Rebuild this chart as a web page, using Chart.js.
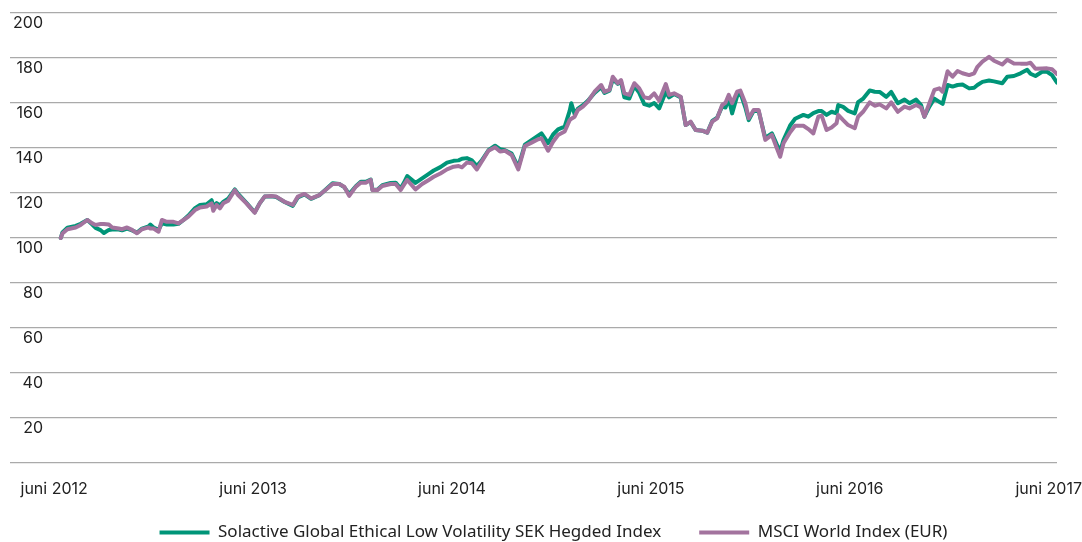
<!DOCTYPE html>
<html>
<head>
<meta charset="utf-8">
<script src="https://cdn.jsdelivr.net/npm/chart.js@4"></script>
<style>
  html, body { margin: 0; padding: 0; background: #fff; overflow: hidden; }
  #wrap { width: 1082px; height: 551px; position: relative; }
</style>
</head>
<body>
<div id="wrap"><canvas id="indexChart"></canvas></div>
<script>
// months since juni 2012
const months = [
  0.4, 0.5, 0.8, 1.3, 1.6, 2.0, 2.3, 2.5, 2.8, 3.0, 3.3, 3.5, 3.9, 4.1, 4.4, 4.7, 5.0, 5.3, 5.7, 5.8,
  6.0, 6.3, 6.5, 6.8, 7.2, 7.5, 7.8, 8.1, 8.5, 8.8, 9.2, 9.5, 9.6, 9.8, 10.0, 10.2, 10.5, 10.9, 11.1, 11.6,
  12.1, 12.4, 12.7, 13.1, 13.4, 13.9, 14.4, 14.7, 15.1, 15.5, 16.0, 16.5, 16.8, 17.2, 17.5, 17.8, 18.2, 18.5, 18.8, 19.1,
  19.2, 19.5, 19.8, 20.3, 20.6, 20.9, 21.1, 21.3, 21.8, 22.2, 22.6, 22.9, 23.3, 23.7, 24.1, 24.4, 24.6, 24.9, 25.2, 25.5,
  25.8, 26.2, 26.6, 26.9, 27.2, 27.6, 28.0, 28.4, 28.8, 29.2, 29.4, 29.8, 30.1, 30.4, 30.8, 31.1, 31.2, 31.4, 31.6, 31.9,
  32.2, 32.6, 33.0, 33.2, 33.5, 33.7, 34.0, 34.2, 34.4, 34.7, 35.0, 35.3, 35.6, 35.9, 36.2, 36.5, 36.9, 37.1, 37.4, 37.8,
  38.1, 38.4, 38.7, 39.1, 39.4, 39.7, 40.0, 40.3, 40.5, 40.7, 40.9, 41.2, 41.4, 41.7, 41.9, 42.2, 42.5, 42.9, 43.3, 43.6,
  43.8, 44.0, 44.4, 44.7, 45.2, 45.5, 45.8, 46.1, 46.3, 46.6, 46.9, 47.2, 47.3, 47.6, 47.9, 48.3, 48.5, 48.8, 49.2, 49.5,
  49.8, 50.2, 50.5, 50.9, 51.3, 51.6, 52.0, 52.3, 52.5, 52.8, 53.1, 53.4, 53.6, 53.9, 54.2, 54.5, 54.8, 55.2, 55.5, 55.7,
  56.0, 56.4, 56.7, 57.2, 57.5, 57.9, 58.3, 58.7, 58.9, 59.2, 59.6, 59.9, 60.2, 60.5
];

const solactive = [
  100, 102.5, 104.6, 105.4, 106.3, 108, 106, 104.5, 103.5, 102.2, 103.6, 103.8, 103.8, 103.4, 104.2, 103.4, 102.4, 104.2, 105.2, 106,
  104.7, 103.6, 106.5, 106, 106, 106.3, 108, 110, 113.3, 114.7, 115, 116.8, 114, 115.5, 114.5, 116, 117.5, 121.6, 119.6, 115.6,
  111.4, 115.4, 118.4, 118.5, 118.2, 116, 114.3, 118, 119.4, 117.4, 119, 122.3, 124.3, 124, 122.6, 119.5, 123, 125, 125, 126,
  121.5, 121.5, 123.5, 124.5, 124.6, 122, 124.5, 127.5, 124.5, 126.5, 128.5, 130, 131.5, 133.5, 134.3, 134.5, 135.2, 135.5, 134.5, 132,
  134.5, 139, 141, 139.5, 139, 137.5, 131.5, 141.5, 143.5, 145.5, 146.5, 142.2, 146, 148.3, 149.5, 156.5, 159.9, 155, 157.5, 159,
  161, 164.5, 167, 164.5, 165.5, 170.5, 168.5, 169.5, 162.5, 162, 167.5, 164.5, 159.5, 158.8, 160, 157.6, 165, 162.5, 164, 162.5,
  150.2, 151.5, 148, 147.7, 146.8, 152, 153.5, 158.5, 158, 162, 155.4, 163, 164.5, 158, 152.4, 156.5, 156.5, 144.5, 146.5, 141.5,
  138.5, 143.5, 150, 153, 154.7, 153.9, 155.5, 156.4, 156.4, 154.7, 156.1, 155.4, 159.1, 158.3, 156.5, 155.4, 160.4, 161.9, 165.6, 165,
  164.9, 162.7, 164.9, 159.9, 161.5, 159.9, 161.5, 159.1, 153.9, 158.4, 161.9, 160.5, 159.6, 168, 167.3, 168, 168.2, 166.5, 166.8, 168,
  169.4, 170, 169.6, 168.8, 171.7, 172, 173.2, 174.8, 173, 172, 173.9, 173.9, 172.4, 169.1
];

const msci = [
  100, 102, 103.9, 104.7, 105.8, 108, 106.5, 105.8, 106.2, 106.2, 106, 104.7, 104.2, 103.9, 104.7, 103.6, 102.1, 103.9, 104.7, 104.2,
  104.2, 102.8, 108, 107.2, 107.2, 106.5, 108, 109.5, 112.4, 113.6, 114, 115.4, 112.1, 114.7, 113.2, 115.4, 116.6, 121.3, 119.1, 115.4,
  111.2, 115.4, 118.4, 118.7, 118.4, 116.1, 114.7, 118.4, 119.6, 117.6, 119.1, 122.1, 124, 124, 122.8, 118.7, 122.8, 124.6, 124.6, 125.8,
  121.3, 121.3, 123.1, 124, 124, 121.3, 123.6, 125.8, 121.6, 124, 125.8, 127.2, 128.7, 130.5, 131.7, 132, 131.4, 133.5, 133.2, 130.5,
  134, 138.8, 140.3, 138.4, 138.8, 136.9, 130.5, 140.9, 142.4, 143.9, 144.3, 138.8, 142.8, 145.8, 147.3, 152.4, 153, 153.9, 156.9, 158.4,
  160.6, 165, 168, 165, 165.8, 171.7, 168.8, 170.2, 164.3, 163.6, 168.8, 166.5, 162.5, 162.1, 164.3, 161, 168.4, 163.6, 164.3, 162.8,
  150.2, 151.7, 148, 147.7, 146.8, 151.7, 153.2, 159.1, 160.1, 163.6, 159.9, 165, 165.5, 159.9, 153.2, 156.9, 156.9, 143.6, 145.8, 139.9,
  136.1, 142.1, 147, 149.9, 149.9, 148.4, 146.5, 153.9, 154.4, 148, 149.1, 151, 154.7, 152.4, 150.2, 148.8, 153.9, 156.1, 160.3, 158.8,
  159.4, 157.6, 160.3, 156.1, 158.4, 157.6, 159.1, 158, 153.9, 159.9, 165.8, 166.5, 165, 174.1, 171.7, 174.2, 173.2, 172.4, 173.2, 176.1,
  178.4, 180.5, 178.8, 177.1, 179.2, 177.6, 177.5, 177.5, 177.9, 175.2, 175.3, 175.4, 175, 172.9
];

const seriesNames = ['Solactive Global Ethical Low Volatility SEK Hegded Index', 'MSCI World Index (EUR)'];
const seriesColors = ['#009578', '#a3739e'];
const yTicks = [0, 20, 40, 60, 80, 100, 120, 140, 160, 180, 200];

const toPoints = vals => vals.map((v, i) => ({ x: months[i], y: v }));

const ctx = document.getElementById('indexChart').getContext('2d');
new Chart(ctx, {
  type: 'line',
  data: {
    datasets: [
      {
        label: seriesNames[0],
        data: toPoints(solactive),
        borderColor: seriesColors[0],
        backgroundColor: seriesColors[0],
        borderWidth: 4,
        order: 1,
      },
      {
        label: seriesNames[1],
        data: toPoints(msci),
        borderColor: seriesColors[1],
        backgroundColor: seriesColors[1],
        borderWidth: 4,
        order: 0,
      },
    ],
  },
  options: {
    responsive: true,
    maintainAspectRatio: false,
    animation: false,
    layout: { padding: { top: 13, right: 25, left: 0, bottom: 0 } },
    elements: {
      point: { radius: 0, hoverRadius: 0 },
      line: { tension: 0, borderJoinStyle: 'round', borderCapStyle: 'round' },
    },
    scales: {
      x: {
        type: 'linear',
        min: -0.25,
        max: 60.5,
        grid: { display: false, drawTicks: false },
        border: { display: false },
        ticks: {
          stepSize: 12,
          includeBounds: false,
          autoSkip: false,
          maxRotation: 0,
          mirror: true,     // keeps the labels from being clipped to the thin axis box
          padding: -36,
          color: '#222',
          font: { family: 'Inter', size: 16 },
          callback: v => (v % 12 === 0 ? 'juni ' + (2012 + v / 12) : ''),
        },
        afterFit: s => { s.height = 23; s.paddingLeft = 0; s.paddingRight = 0; },
      },
      y: {
        min: 0,
        max: 200,
        afterBuildTicks: s => { s.ticks = yTicks.map(v => ({ value: v })); },
        grid: { color: '#aaaaaa', lineWidth: 1.3, tickLength: 40, drawTicks: true },
        border: { display: false },
        ticks: {
          padding: -33,
          labelOffset: 10,
          color: '#222',
          font: { family: 'Inter', size: 16 },
          callback: v => (v === 0 ? '' : v),
        },
        afterFit: s => { s.width = 50; s.paddingTop = 0; s.paddingBottom = 0; },
      },
    },
    plugins: {
      tooltip: { enabled: false },
      legend: {
        position: 'bottom',
        fullSize: false,
        labels: {
          usePointStyle: true,
          pointStyle: 'line',
          pointStyleWidth: 50,
          padding: 38,
          color: '#222',
          font: { family: 'Noto Sans', size: 17 },
          sort: (a, b) => a.datasetIndex - b.datasetIndex,
        },
      },
    },
  },
});
</script>
</body>
</html>
